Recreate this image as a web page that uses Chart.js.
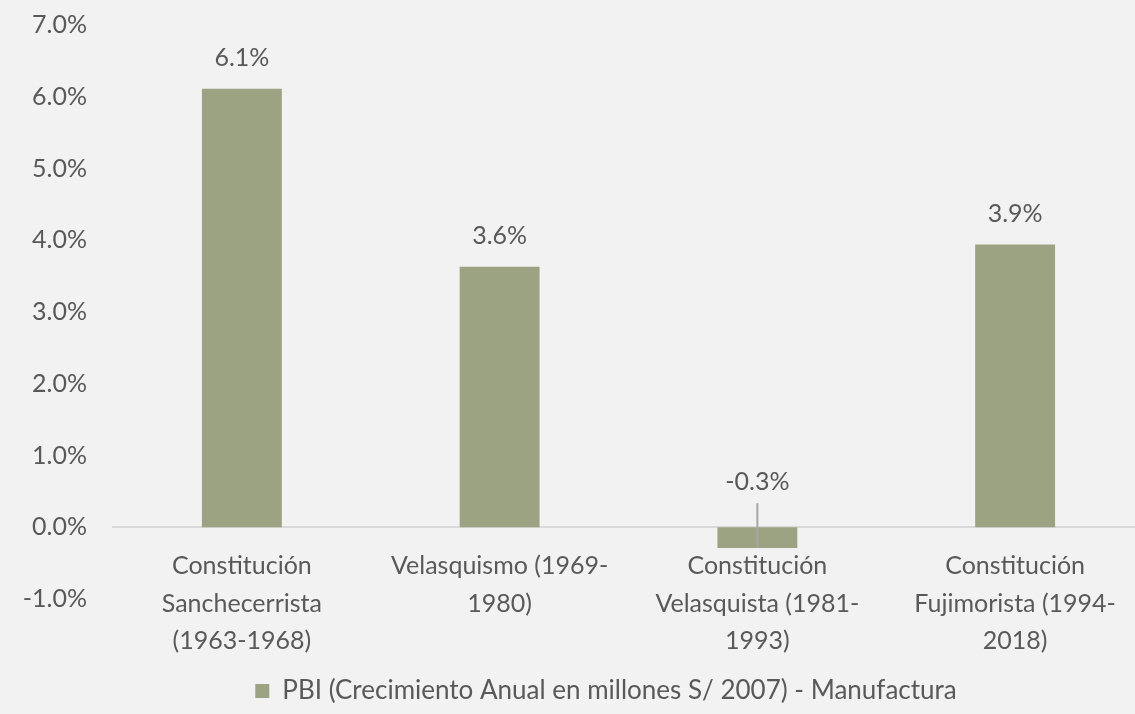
<!DOCTYPE html>
<html>
<head>
<meta charset="utf-8">
<script src="https://cdn.jsdelivr.net/npm/chart.js@4.4.1/dist/chart.umd.min.js"></script>
<style>
  html, body { margin: 0; padding: 0; background: #f2f2f2; overflow: hidden; }
  #wrap { width: 1144px; height: 714px; }
</style>
</head>
<body>
<div id="wrap"><canvas id="chart"></canvas></div>
<script>
'use strict';
const categories = [
  ['Constitución', 'Sanchecerrista', '(1963-1968)'],
  ['Velasquismo (1969-', '1980)'],
  ['Constitución', 'Velasquista (1981-', '1993)'],
  ['Constitución', 'Fujimorista (1994-', '2018)'],
];
const growth = [6.11, 3.63, -0.29, 3.94];
const seriesLabel = 'PBI (Crecimiento Anual en millones S/ 2007) - Manufactura';
const yMin = -1;
const yMax = 7;

const BAR = '#9ca382';
const TEXT = '#595959';
const FONT = 'Lato, "Noto Sans", sans-serif';

const barLabels = {
  id: 'barLabels',
  afterDatasetsDraw(chart) {
    const ctx = chart.ctx;
    const zero = chart.scales.y.getPixelForValue(0);
    const meta = chart.getDatasetMeta(0);
    ctx.save();
    ctx.font = '25px ' + FONT;
    ctx.fillStyle = TEXT;
    ctx.textAlign = 'center';
    ctx.textBaseline = 'middle';
    meta.data.forEach((bar, i) => {
      const v = growth[i];
      const text = v.toFixed(1) + '%';
      if (v >= 0) {
        ctx.fillText(text, bar.x, bar.y - 31);
      } else {
        ctx.fillText(text, bar.x, zero - 45);
        ctx.strokeStyle = '#a6a6a6';
        ctx.lineWidth = 2;
        ctx.beginPath();
        ctx.moveTo(bar.x, zero - 24);
        ctx.lineTo(bar.x, bar.y);
        ctx.stroke();
      }
    });
    ctx.restore();
  }
};

// the legend in the original sits a bit right of centre
const legendShift = {
  id: 'legendShift',
  afterLayout(chart) {
    chart.legend.left += 34;
    chart.legend.right += 34;
  }
};

new Chart(document.getElementById('chart').getContext('2d'), {
  type: 'bar',
  data: {
    labels: categories,
    datasets: [{
      label: seriesLabel,
      data: growth,
      backgroundColor: BAR,
      borderWidth: 0,
      barPercentage: 0.62,
      categoryPercentage: 0.5,
    }],
  },
  options: {
    responsive: true,
    maintainAspectRatio: false,
    animation: false,
    layout: { padding: { top: 25, right: 0, bottom: 0, left: 0 } },
    plugins: {
      tooltip: { enabled: false },
      legend: {
        position: 'bottom',
        labels: {
          color: TEXT,
          font: { family: FONT, size: 26 },
          boxWidth: 14,
          boxHeight: 14,
          padding: 79,
        },
      },
    },
    scales: {
      x: {
        position: { y: 0 },
        afterFit(scale) { scale.paddingTop = 0; scale.paddingBottom = 0; },
        grid: { display: false, drawTicks: false },
        border: { display: true, color: '#d9d9d9', width: 2 },
        ticks: {
          color: TEXT,
          font: { family: FONT, size: 25, lineHeight: 1.5 },
          padding: 20,
          maxRotation: 0,
          autoSkip: false,
        },
      },
      y: {
        min: yMin,
        max: yMax,
        afterFit(scale) {
          scale.width = 113;
          scale.paddingTop = 0;
          scale.paddingBottom = 0;
        },
        grid: { display: false, drawTicks: false },
        border: { display: false },
        ticks: {
          stepSize: 1,
          color: TEXT,
          font: { family: FONT, size: 25 },
          padding: 26,
          callback: (v) => v.toFixed(1) + '%',
        },
      },
    },
  },
  plugins: [barLabels, legendShift],
});
</script>
</body>
</html>
